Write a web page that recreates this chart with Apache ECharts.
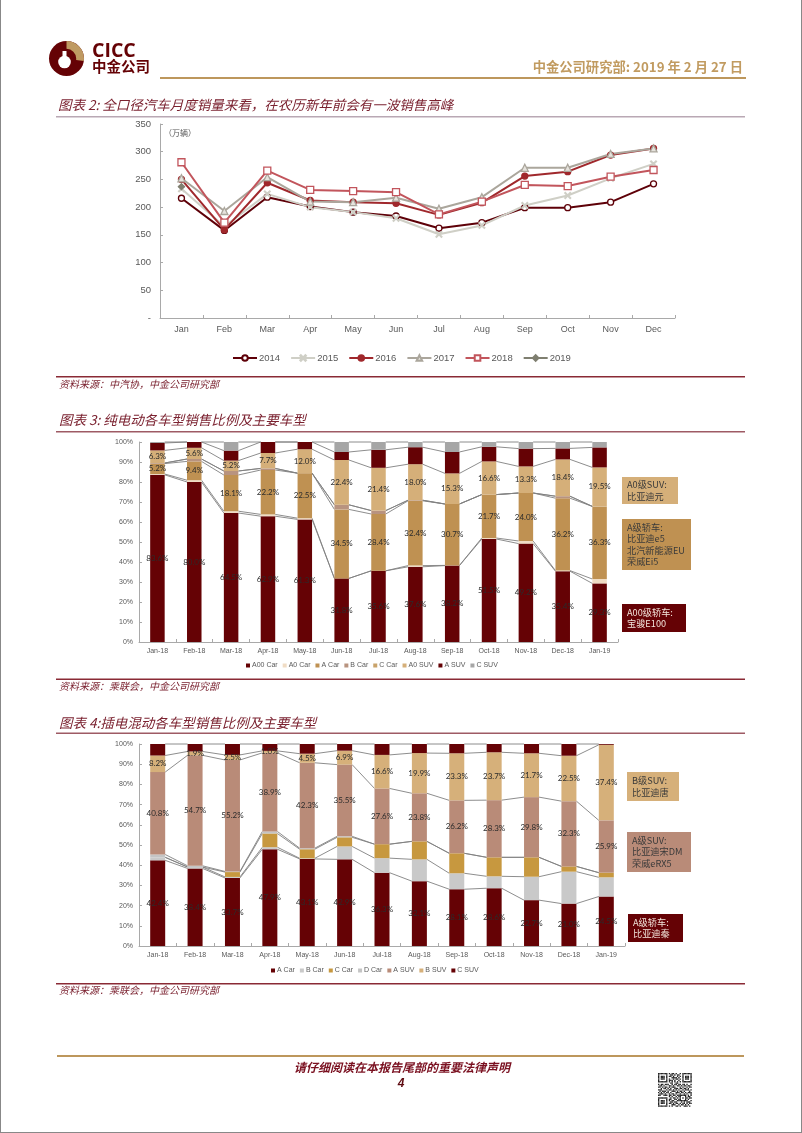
<!DOCTYPE html>
<html><head><meta charset="utf-8">
<style>html,body{margin:0;padding:0;background:#fff}#c{width:802px;height:1133px}</style>
<script src="https://cdn.jsdelivr.net/npm/echarts@6/dist/echarts.min.js"></script>
</head><body><div id="c"></div>
<script>
const months=['Jan','Feb','Mar','Apr','May','Jun','Jul','Aug','Sep','Oct','Nov','Dec'];
const sales2014=[216,158,218,201,191,184,162,172,199,199,209,242];
const sales2015=[233,165,224,200,191,180,151,167,203,221,252,278];
const sales2016=[250,159,244,212,209,207,186,208,256,264,294,306];
const sales2017=[252,193,254,210,209,217,197,218,271,271,296,306];
const sales2018=[281,172,266,231,229,227,187,210,240,238,255,267];
const sales2019=[237,null,null,null,null,null,null,null,null,null,null,null];
const periods=['Jan-18','Feb-18','Mar-18','Apr-18','May-18','Jun-18','Jul-18','Aug-18','Sep-18','Oct-18','Nov-18','Dec-18','Jan-19'];
// Figure 3: battery EV mix (%)
const bevA00=[83.6,80.0,64.5,62.9,61.3,31.8,35.6,37.6,38.2,51.5,49.2,35.4,29.3];
const bevA0=[0.4,0.9,0.9,0.9,0.6,0,0,0.6,0.1,0.5,1.3,0.3,2.2];
const bevA=[5.2,9.4,18.1,22.2,22.5,34.5,28.4,32.4,30.7,21.7,24.0,36.2,36.3];
const bevB=[0.3,1.2,2.0,0.8,0,2.3,1.7,0.3,0,0,0,1.0,0];
const bevC=[0,0,0,0,0,0,0,0,0,0,0,0,0];
const bevA0Suv=[6.3,5.6,5.2,7.7,12.0,22.4,21.4,18.0,15.3,16.6,13.3,18.4,19.5];
const bevASuv=[3.7,2.9,5.0,5.5,3.6,4.0,9.0,8.5,10.7,7.3,8.9,5.5,10.0];
const bevCSuv=[0.5,0,4.3,0,0,5.0,3.9,2.6,5.0,2.4,3.3,3.2,2.7];
// Figure 4: plug-in hybrid mix (%)
const phevA=[42.4,38.4,33.7,47.9,43.1,42.9,36.3,32.1,28.1,28.6,22.7,21.0,24.5];
const phevB=[1.5,0.7,0.5,1.0,0.3,6.4,7.2,10.8,7.9,5.9,11.6,15.8,9.5];
const phevC=[0,0,2.4,6.8,4.5,4.5,6.9,8.9,9.9,9.4,9.6,2.6,2.3];
const phevD=[1.4,0.6,0.3,1.0,0.5,0.5,0,0,0,0,0,0,0];
const phevASuv=[40.8,54.7,55.2,38.9,42.3,35.5,27.6,23.8,26.2,28.3,29.8,32.3,25.9];
const phevBSuv=[8.2,1.9,2.5,1.0,4.5,6.9,16.6,19.9,23.3,23.7,21.7,22.5,37.4];
const phevCSuv=[5.7,3.7,5.4,3.4,4.8,3.3,5.4,4.5,4.6,4.1,4.6,5.8,0.4];

const SANS='"Liberation Sans",Arial,sans-serif', CJK='"Noto Sans CJK SC",sans-serif';
const MAROON='#650205', GOLD='#BD975C', HEAD='#7B2230', AXIS='#A9A9A9', TICK='#595959';
const chart=echarts.init(document.getElementById('c'),null,{renderer:'canvas'});

function lineSeries(name,data,color,symbol,size,fill,width){
  return {type:'line',name,data,xAxisIndex:0,yAxisIndex:0,symbol,symbolSize:size,showAllSymbols:true,
    lineStyle:{color,width:width||2},itemStyle:{color:fill,borderColor:color,borderWidth:1.3},connectNulls:false,animation:false};
}
function barSeries(name,data,color,stack,idx,labelled){
  return {type:'bar',name,data,stack,xAxisIndex:idx,yAxisIndex:idx,barWidth:idx===1?14.5:15,itemStyle:{color},animation:false,
    label:{show:!!labelled,position:'inside',color:'#2b2b2b',fontFamily:'Lato,"Open Sans",sans-serif',fontSize:8,
      formatter:p=>p.value.toFixed(1)+'%'},z:2};
}
function seriesLines(arrays,idx,barW){
  return {type:'custom',xAxisIndex:idx,yAxisIndex:idx,silent:true,animation:false,z:1,
    data:periods.map((p,i)=>[i,0]),encode:{x:0,y:1},clip:false,
    renderItem(params,api){
      const i=api.value(0); if(i>=periods.length-1) return {type:'group',children:[]};
      const children=[]; let a=0,b=0;
      arrays.forEach(arr=>{
        a+=arr[i]; b+=arr[i+1];
        const p=api.coord([i,Math.min(a,100)]), q=api.coord([i+1,Math.min(b,100)]);
        children.push({type:'line',shape:{x1:p[0]+barW/2,y1:p[1],x2:q[0]-barW/2,y2:q[1]},
          style:{stroke:'#808080',lineWidth:0.9,fill:null}});
      });
      return {type:'group',children};
    }};
}
function xAx(grid,data,size){
  return {type:'category',gridIndex:grid,data,axisLine:{lineStyle:{color:AXIS,width:1}},
    axisTick:{show:true,inside:true,length:3,lineStyle:{color:AXIS}},
    axisLabel:{color:TICK,fontFamily:SANS,fontSize:size,margin:size===9?7:6,interval:0}};
}
function yPct(grid){
  return {type:'value',gridIndex:grid,min:0,max:100,interval:10,splitLine:{show:false},
    axisLine:{show:true,lineStyle:{color:AXIS,width:1}},axisTick:{show:true,inside:true,length:3,lineStyle:{color:AXIS}},
    axisLabel:{color:TICK,fontFamily:SANS,fontSize:7,margin:6,formatter:'{value}%'}};
}
const bevArrays=[bevA00,bevA0,bevA,bevB,bevC,bevA0Suv,bevASuv,bevCSuv];
const phevArrays=[phevA,phevB,phevC,phevD,phevASuv,phevBSuv,phevCSuv];
const bevColors={'A00 Car':'#650205','A0 Car':'#F0DCC4','A Car':'#BF9152','B Car':'#B8937F','C Car':'#C9A36A','A0 SUV':'#D5AF79','A SUV':'#650205','C SUV':'#A6A6A6'};
const phevColors={'A Car':'#650205','B Car':'#C9C9C9','C Car':'#C7983F','D Car':'#C4C4C4','A SUV':'#B98B78','B SUV':'#D6B07A','C SUV':'#650205'};

function txt(text,x,y,o){return {type:'text',silent:true,style:Object.assign({text,x,y,fontFamily:CJK,fontSize:12,fill:'#333',align:'left',verticalAlign:'middle'},o||{})};}
function rule(x,y,w,h,fill){return {type:'rect',silent:true,shape:{x,y,width:w,height:h},style:{fill}};}
function box(x,y,w,h,fill,lines,color){
  const els=[rule(x,y,w,h,fill)];
  const lh=11.3, start=y+h/2-(lines.length-1)*lh/2;
  lines.forEach((l,i)=>els.push(txt(l,x+5,start+i*lh,{fontSize:9.2,fill:color||'#3a3a3a'})));
  return els;
}
const qrRows=[
'1111111010110100101111111','1000001001101011001000001','1011101011010010101011101','1011101000111101001011101',
'1011101010010110101011101','1000001011101001001000001','1111111010101010101111111','0000000001100110000000000',
'1011011100101101101101001','0110100011010011010110110','1101011010111000101001011','0010110101001110110110100',
'1110001011010101001011101','0101110100111010110100010','1010101101000111011010111','0111010010110100100101001',
'1100111011011011111110101','0000000010100101100010110','1111111001011010101011011','1000001011001101100010100',
'1011101010110011111111001','1011101001101100010101110','1011101011010110101101011','1000001000111001011010100',
'1111111010100110100111010'];
function qr(x0,y0,m){
  const out=[];
  qrRows.forEach((r,j)=>{for(let i=0;i<r.length;i++) if(r[i]==='1') out.push(rule(x0+i*m,y0+j*m,m,m,'#222'));});
  return out;
}
const legendSm=(items,colors,left,top,gap)=>({left,top,orient:'horizontal',itemWidth:4,itemHeight:4,itemGap:gap,icon:'rect',selectedMode:false,
  textStyle:{color:TICK,fontFamily:SANS,fontSize:7,padding:[0,0,0,-3]},padding:0,
  data:items.map(n=>({name:n,icon:'rect',itemStyle:{color:colors[n],borderWidth:0,opacity:1}}))});

const graphicEls=[
  // page frame
  rule(0,0,1,1133,'#888'),rule(801,0,1,1133,'#888'),rule(0,1132,802,1,'#888'),
  // logo
  {type:'circle',silent:true,shape:{cx:66.5,cy:58.5,r:17.5},style:{fill:MAROON}},
  {type:'arc',silent:true,shape:{cx:66.5,cy:58.5,r:13.6,startAngle:-Math.PI/2,endAngle:0.15,clockwise:true},style:{fill:null,stroke:'#BF9A62',lineWidth:7.8}},
  {type:'circle',silent:true,shape:{cx:64.5,cy:62,r:6.3},style:{fill:'#fff'}},
  {type:'rect',silent:true,shape:{x:62.5,y:51,width:4,height:7},style:{fill:'#fff'}},
  txt('CICC',92,51.5,{fontFamily:'"Open Sans",sans-serif',fontWeight:'bold',fontSize:19.5,fill:MAROON}),
  txt('中金公司',92,66.5,{fontWeight:'bold',fontSize:14.5,fill:MAROON}),
  txt('中金公司研究部: 2019 年 2 月 27 日',743,67,{align:'right',fontWeight:'bold',fontSize:13.3,fill:'#C19B60'}),
  rule(160,77,586,2,GOLD),
  // headings
  txt('图表 2: 全口径汽车月度销量来看，在农历新年前会有一波销售高峰',58,105,{fontSize:13.5,fontStyle:'italic',fill:HEAD}),
  rule(56,116,689,1.5,'#B9A8B4'),
  txt('（万辆）',164,133,{fontSize:8,fill:'#555'}),
  rule(56,376,689,1.5,'#8A2A35'),
  txt('资料来源：中汽协，中金公司研究部',59,384,{fontSize:10,fontStyle:'italic',fill:HEAD}),
  txt('图表 3: 纯电动各车型销售比例及主要车型',59,420,{fontSize:13.5,fontStyle:'italic',fill:HEAD}),
  rule(56,431,689,1.5,'#9E5A64'),
  rule(56,678.5,689,1.5,'#8A2A35'),
  txt('资料来源：乘联会，中金公司研究部',59,686,{fontSize:10,fontStyle:'italic',fill:HEAD}),
  txt('图表 4:插电混动各车型销售比例及主要车型',59,723,{fontSize:13.5,fontStyle:'italic',fill:HEAD}),
  rule(56,732.5,689,1.5,'#9E5A64'),
  rule(56,983,689,1.5,'#8A2A35'),
  txt('资料来源：乘联会，中金公司研究部',59,990,{fontSize:10,fontStyle:'italic',fill:HEAD}),
  // annotation boxes
  ...box(622,477,56,27,'#D5AF79',['A0级SUV:','比亚迪元']),
  ...box(622,519,69,51,'#BF9152',['A级轿车:','比亚迪e5','北汽新能源EU','荣威Ei5']),
  ...box(622,604,64,28,'#650205',['A00级轿车:','宝骏E100'],'#F3E6DC'),
  ...box(627,772,52,29,'#D6B07A',['B级SUV:','比亚迪唐']),
  ...box(627,832,64,40,'#B98B78',['A级SUV:','比亚迪宋DM','荣威eRX5']),
  ...box(628,914,55,28,'#650205',['A级轿车:','比亚迪秦'],'#F3E6DC'),
  // footer
  rule(57,1055,687,2,GOLD),
  txt('请仔细阅读在本报告尾部的重要法律声明',402,1067,{align:'center',fontSize:12,fontWeight:'bold',fontStyle:'italic',fill:'#7A1020'}),
  txt('4',401,1084,{align:'center',fontFamily:SANS,fontSize:12,fontWeight:'bold',fontStyle:'italic',fill:'#5E0A10'}),
  ...qr(658,1073,1.35)
];

chart.setOption({
  backgroundColor:'#fff',animation:false,
  grid:[
    {left:160,top:124,width:515,height:194},
    {left:139,top:442,width:479,height:200},
    {left:139,top:744,width:486,height:202}
  ],
  xAxis:[xAx(0,months,9),xAx(1,periods,7),xAx(2,periods,7)],
  yAxis:[
    {type:'value',gridIndex:0,min:0,max:350,interval:50,splitLine:{show:false},
      axisLine:{show:true,lineStyle:{color:AXIS,width:1}},axisTick:{show:true,inside:true,length:3,lineStyle:{color:AXIS}},
      axisLabel:{color:TICK,fontFamily:SANS,fontSize:9.5,margin:9,formatter:v=>v===0?'-':String(v)}},
    yPct(1),yPct(2)
  ],
  legend:[
    {left:232,top:353,itemWidth:24,itemHeight:7,itemGap:10,selectedMode:false,padding:0,
      textStyle:{color:TICK,fontFamily:SANS,fontSize:9.5,padding:[0,0,0,-3]},
      data:['2014','2015','2016','2017','2018','2019']},
    legendSm(['A00 Car','A0 Car','A Car','B Car','C Car','A0 SUV','A SUV','C SUV'],bevColors,246,662,5),
    legendSm(['A Car','B Car','C Car','D Car','A SUV','B SUV','C SUV'],phevColors,271,967,5)
  ],
  series:[
    lineSeries('2014',sales2014,'#5E0008','circle',6,'#fff'),
    lineSeries('2015',sales2015,'#CFCFC6','path://M1 0 L5 4 L9 0 L10 1 L6 5 L10 9 L9 10 L5 6 L1 10 L0 9 L4 5 L0 1 Z',6,'#CFCFC6'),
    lineSeries('2016',sales2016,'#A0282C','circle',6,'#A0282C'),
    lineSeries('2017',sales2017,'#ABA69C','triangle',7,'#E6E3DD'),
    lineSeries('2018',sales2018,'#C2555C','rect',7,'#fff'),
    lineSeries('2019',sales2019,'#7F7F70','diamond',6,'#7F7F70'),
    seriesLines(bevArrays,1,14.5),
    barSeries('A00 Car',bevA00,bevColors['A00 Car'],'bev',1,true),
    barSeries('A0 Car',bevA0,bevColors['A0 Car'],'bev',1),
    barSeries('A Car',bevA,bevColors['A Car'],'bev',1,true),
    barSeries('B Car',bevB,bevColors['B Car'],'bev',1),
    barSeries('C Car',bevC,bevColors['C Car'],'bev',1),
    barSeries('A0 SUV',bevA0Suv,bevColors['A0 SUV'],'bev',1,true),
    barSeries('A SUV',bevASuv,bevColors['A SUV'],'bev',1),
    barSeries('C SUV',bevCSuv,bevColors['C SUV'],'bev',1),
    seriesLines(phevArrays,2,15),
    barSeries('A Car',phevA,phevColors['A Car'],'phev',2,true),
    barSeries('B Car',phevB,phevColors['B Car'],'phev',2),
    barSeries('C Car',phevC,phevColors['C Car'],'phev',2),
    barSeries('D Car',phevD,phevColors['D Car'],'phev',2),
    barSeries('A SUV',phevASuv,phevColors['A SUV'],'phev',2,true),
    barSeries('B SUV',phevBSuv,phevColors['B SUV'],'phev',2,true),
    barSeries('C SUV',phevCSuv,phevColors['C SUV'],'phev',2)
  ],
  graphic:{elements:graphicEls}
});
</script></body></html>
